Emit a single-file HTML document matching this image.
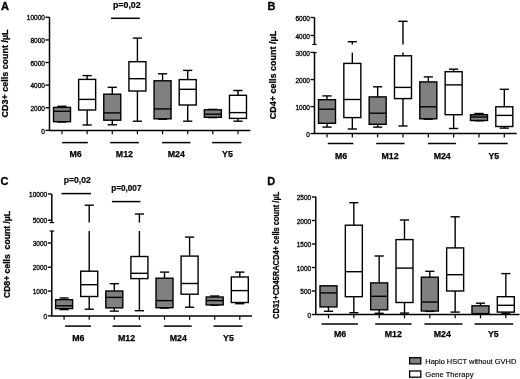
<!DOCTYPE html>
<html><head><meta charset="utf-8"><style>
html,body{margin:0;padding:0;background:#fff;}
body{width:520px;height:379px;overflow:hidden;}
svg{display:block;}
text{font-family:"Liberation Sans", sans-serif;fill:#000;}
svg{filter:grayscale(1);}
</style></head><body>
<svg width="520" height="379" viewBox="0 0 520 379" stroke="#000" fill="none" stroke-linecap="butt">
<line x1="49.50" y1="17.30" x2="49.50" y2="130.40" stroke-width="1.5"/>
<line x1="48.75" y1="130.40" x2="250.40" y2="130.40" stroke-width="1.5"/>
<line x1="45.50" y1="17.30" x2="49.50" y2="17.30" stroke-width="1.35"/>
<text stroke="#000" stroke-width="0.3" x="44.90" y="20.40" font-size="6.5" font-weight="normal" text-anchor="end" >10000</text>
<line x1="45.50" y1="39.92" x2="49.50" y2="39.92" stroke-width="1.35"/>
<text stroke="#000" stroke-width="0.3" x="44.90" y="43.02" font-size="6.5" font-weight="normal" text-anchor="end" >8000</text>
<line x1="45.50" y1="62.54" x2="49.50" y2="62.54" stroke-width="1.35"/>
<text stroke="#000" stroke-width="0.3" x="44.90" y="65.64" font-size="6.5" font-weight="normal" text-anchor="end" >6000</text>
<line x1="45.50" y1="85.16" x2="49.50" y2="85.16" stroke-width="1.35"/>
<text stroke="#000" stroke-width="0.3" x="44.90" y="88.26" font-size="6.5" font-weight="normal" text-anchor="end" >4000</text>
<line x1="45.50" y1="107.78" x2="49.50" y2="107.78" stroke-width="1.35"/>
<text stroke="#000" stroke-width="0.3" x="44.90" y="110.88" font-size="6.5" font-weight="normal" text-anchor="end" >2000</text>
<line x1="45.50" y1="130.40" x2="49.50" y2="130.40" stroke-width="1.35"/>
<text stroke="#000" stroke-width="0.3" x="44.90" y="133.50" font-size="6.5" font-weight="normal" text-anchor="end" >0</text>
<line x1="62.00" y1="130.40" x2="62.00" y2="134.20" stroke-width="1.2"/>
<line x1="87.14" y1="130.40" x2="87.14" y2="134.20" stroke-width="1.2"/>
<line x1="112.28" y1="130.40" x2="112.28" y2="134.20" stroke-width="1.2"/>
<line x1="137.42" y1="130.40" x2="137.42" y2="134.20" stroke-width="1.2"/>
<line x1="162.56" y1="130.40" x2="162.56" y2="134.20" stroke-width="1.2"/>
<line x1="187.70" y1="130.40" x2="187.70" y2="134.20" stroke-width="1.2"/>
<line x1="212.84" y1="130.40" x2="212.84" y2="134.20" stroke-width="1.2"/>
<line x1="237.98" y1="130.40" x2="237.98" y2="134.20" stroke-width="1.2"/>
<line x1="62.00" y1="106.30" x2="62.00" y2="107.40" stroke-width="1.4"/>
<line x1="57.40" y1="106.30" x2="66.60" y2="106.30" stroke-width="1.4"/>
<line x1="57.40" y1="122.00" x2="66.60" y2="122.00" stroke-width="1.4"/>
<rect x="53.50" y="107.40" width="17.00" height="14.30" fill="#808080" stroke-width="1.4"/>
<line x1="53.50" y1="111.30" x2="70.50" y2="111.30" stroke-width="1.4"/>
<line x1="87.14" y1="75.60" x2="87.14" y2="79.40" stroke-width="1.4"/>
<line x1="87.14" y1="110.00" x2="87.14" y2="125.00" stroke-width="1.4"/>
<line x1="82.54" y1="75.60" x2="91.74" y2="75.60" stroke-width="1.4"/>
<line x1="82.54" y1="125.00" x2="91.74" y2="125.00" stroke-width="1.4"/>
<rect x="78.64" y="79.40" width="17.00" height="30.60" fill="#fff" stroke-width="1.4"/>
<line x1="78.64" y1="99.40" x2="95.64" y2="99.40" stroke-width="1.4"/>
<line x1="112.28" y1="87.30" x2="112.28" y2="94.20" stroke-width="1.4"/>
<line x1="112.28" y1="120.20" x2="112.28" y2="124.80" stroke-width="1.4"/>
<line x1="107.68" y1="87.30" x2="116.88" y2="87.30" stroke-width="1.4"/>
<line x1="107.68" y1="124.80" x2="116.88" y2="124.80" stroke-width="1.4"/>
<rect x="103.78" y="94.20" width="17.00" height="26.00" fill="#808080" stroke-width="1.4"/>
<line x1="103.78" y1="112.90" x2="120.78" y2="112.90" stroke-width="1.4"/>
<line x1="137.42" y1="38.10" x2="137.42" y2="61.70" stroke-width="1.4"/>
<line x1="137.42" y1="91.00" x2="137.42" y2="121.20" stroke-width="1.4"/>
<line x1="132.82" y1="38.10" x2="142.02" y2="38.10" stroke-width="1.4"/>
<line x1="132.82" y1="121.20" x2="142.02" y2="121.20" stroke-width="1.4"/>
<rect x="128.92" y="61.70" width="17.00" height="29.30" fill="#fff" stroke-width="1.4"/>
<line x1="128.92" y1="78.70" x2="145.92" y2="78.70" stroke-width="1.4"/>
<line x1="162.56" y1="73.80" x2="162.56" y2="80.80" stroke-width="1.4"/>
<line x1="162.56" y1="118.80" x2="162.56" y2="119.20" stroke-width="1.4"/>
<line x1="157.96" y1="73.80" x2="167.16" y2="73.80" stroke-width="1.4"/>
<line x1="157.96" y1="119.20" x2="167.16" y2="119.20" stroke-width="1.4"/>
<rect x="154.06" y="80.80" width="17.00" height="38.00" fill="#808080" stroke-width="1.4"/>
<line x1="154.06" y1="108.90" x2="171.06" y2="108.90" stroke-width="1.4"/>
<line x1="187.70" y1="70.40" x2="187.70" y2="79.60" stroke-width="1.4"/>
<line x1="187.70" y1="105.00" x2="187.70" y2="121.20" stroke-width="1.4"/>
<line x1="183.10" y1="70.40" x2="192.30" y2="70.40" stroke-width="1.4"/>
<line x1="183.10" y1="121.20" x2="192.30" y2="121.20" stroke-width="1.4"/>
<rect x="179.20" y="79.60" width="17.00" height="25.40" fill="#fff" stroke-width="1.4"/>
<line x1="179.20" y1="89.30" x2="196.20" y2="89.30" stroke-width="1.4"/>
<line x1="212.84" y1="109.40" x2="212.84" y2="109.80" stroke-width="1.4"/>
<line x1="208.24" y1="109.40" x2="217.44" y2="109.40" stroke-width="1.4"/>
<line x1="208.24" y1="117.60" x2="217.44" y2="117.60" stroke-width="1.4"/>
<rect x="204.34" y="109.80" width="17.00" height="7.50" fill="#808080" stroke-width="1.4"/>
<line x1="204.34" y1="114.20" x2="221.34" y2="114.20" stroke-width="1.4"/>
<line x1="237.98" y1="90.50" x2="237.98" y2="95.30" stroke-width="1.4"/>
<line x1="237.98" y1="118.40" x2="237.98" y2="121.20" stroke-width="1.4"/>
<line x1="233.38" y1="90.50" x2="242.58" y2="90.50" stroke-width="1.4"/>
<line x1="233.38" y1="121.20" x2="242.58" y2="121.20" stroke-width="1.4"/>
<rect x="229.48" y="95.30" width="17.00" height="23.10" fill="#fff" stroke-width="1.4"/>
<line x1="229.48" y1="112.60" x2="246.48" y2="112.60" stroke-width="1.4"/>
<line x1="62.10" y1="142.60" x2="87.80" y2="142.60" stroke-width="1.5"/>
<line x1="110.20" y1="142.60" x2="138.90" y2="142.60" stroke-width="1.5"/>
<line x1="162.10" y1="142.60" x2="190.40" y2="142.60" stroke-width="1.5"/>
<line x1="212.20" y1="142.60" x2="241.30" y2="142.60" stroke-width="1.5"/>
<text stroke="#000" stroke-width="0.25" x="75.50" y="157.30" font-size="8.8" font-weight="bold" text-anchor="middle" >M6</text>
<text stroke="#000" stroke-width="0.25" x="124.40" y="157.30" font-size="8.8" font-weight="bold" text-anchor="middle" >M12</text>
<text stroke="#000" stroke-width="0.25" x="176.30" y="157.30" font-size="8.8" font-weight="bold" text-anchor="middle" >M24</text>
<text stroke="#000" stroke-width="0.25" x="227.40" y="157.30" font-size="8.8" font-weight="bold" text-anchor="middle" >Y5</text>
<text stroke="#000" stroke-width="0.3" x="1.00" y="10.00" font-size="11" font-weight="bold" text-anchor="start" >A</text>
<text stroke="#000" stroke-width="0.25" x="8.20" y="73.40" font-size="9.2" font-weight="bold" text-anchor="middle" textLength="88.0" lengthAdjust="spacingAndGlyphs" transform="rotate(-90 8.20 73.40)">CD3+ cells count /µL</text>
<text stroke="#000" stroke-width="0.2" x="113.00" y="8.10" font-size="8.8" font-weight="bold" text-anchor="start" >p=0,02</text>
<line x1="111.00" y1="18.30" x2="139.80" y2="18.30" stroke-width="1.5"/>
<line x1="314.50" y1="17.40" x2="314.50" y2="44.50" stroke-width="1.5"/>
<line x1="314.50" y1="52.60" x2="314.50" y2="133.60" stroke-width="1.5"/>
<line x1="313.75" y1="133.60" x2="516.60" y2="133.60" stroke-width="1.5"/>
<line x1="310.50" y1="17.50" x2="314.50" y2="17.50" stroke-width="1.35"/>
<text stroke="#000" stroke-width="0.3" x="309.90" y="20.60" font-size="6.5" font-weight="normal" text-anchor="end" >6000</text>
<line x1="310.50" y1="35.50" x2="314.50" y2="35.50" stroke-width="1.35"/>
<text stroke="#000" stroke-width="0.3" x="309.90" y="38.60" font-size="6.5" font-weight="normal" text-anchor="end" >4000</text>
<line x1="310.50" y1="52.40" x2="314.50" y2="52.40" stroke-width="1.35"/>
<text stroke="#000" stroke-width="0.3" x="309.90" y="55.50" font-size="6.5" font-weight="normal" text-anchor="end" >3000</text>
<line x1="310.50" y1="79.60" x2="314.50" y2="79.60" stroke-width="1.35"/>
<text stroke="#000" stroke-width="0.3" x="309.90" y="82.70" font-size="6.5" font-weight="normal" text-anchor="end" >2000</text>
<line x1="310.50" y1="106.60" x2="314.50" y2="106.60" stroke-width="1.35"/>
<text stroke="#000" stroke-width="0.3" x="309.90" y="109.70" font-size="6.5" font-weight="normal" text-anchor="end" >1000</text>
<line x1="310.50" y1="133.60" x2="314.50" y2="133.60" stroke-width="1.35"/>
<text stroke="#000" stroke-width="0.3" x="309.90" y="136.70" font-size="6.5" font-weight="normal" text-anchor="end" >0</text>
<line x1="312.30" y1="44.50" x2="316.70" y2="44.50" stroke-width="1.2"/>
<line x1="312.30" y1="52.60" x2="316.70" y2="52.60" stroke-width="1.2"/>
<line x1="327.00" y1="133.60" x2="327.00" y2="137.40" stroke-width="1.2"/>
<line x1="352.33" y1="133.60" x2="352.33" y2="137.40" stroke-width="1.2"/>
<line x1="377.66" y1="133.60" x2="377.66" y2="137.40" stroke-width="1.2"/>
<line x1="402.99" y1="133.60" x2="402.99" y2="137.40" stroke-width="1.2"/>
<line x1="428.32" y1="133.60" x2="428.32" y2="137.40" stroke-width="1.2"/>
<line x1="453.65" y1="133.60" x2="453.65" y2="137.40" stroke-width="1.2"/>
<line x1="478.98" y1="133.60" x2="478.98" y2="137.40" stroke-width="1.2"/>
<line x1="504.31" y1="133.60" x2="504.31" y2="137.40" stroke-width="1.2"/>
<line x1="327.00" y1="95.90" x2="327.00" y2="99.70" stroke-width="1.4"/>
<line x1="327.00" y1="123.30" x2="327.00" y2="127.10" stroke-width="1.4"/>
<line x1="322.40" y1="95.90" x2="331.60" y2="95.90" stroke-width="1.4"/>
<line x1="322.40" y1="127.10" x2="331.60" y2="127.10" stroke-width="1.4"/>
<rect x="318.50" y="99.70" width="17.00" height="23.60" fill="#808080" stroke-width="1.4"/>
<line x1="318.50" y1="109.20" x2="335.50" y2="109.20" stroke-width="1.4"/>
<line x1="352.33" y1="41.70" x2="352.33" y2="44.50" stroke-width="1.4"/>
<line x1="352.33" y1="52.60" x2="352.33" y2="63.40" stroke-width="1.4"/>
<line x1="352.33" y1="117.60" x2="352.33" y2="129.00" stroke-width="1.4"/>
<line x1="347.73" y1="41.70" x2="356.93" y2="41.70" stroke-width="1.4"/>
<line x1="347.73" y1="129.00" x2="356.93" y2="129.00" stroke-width="1.4"/>
<rect x="343.83" y="63.40" width="17.00" height="54.20" fill="#fff" stroke-width="1.4"/>
<line x1="343.83" y1="99.50" x2="360.83" y2="99.50" stroke-width="1.4"/>
<line x1="377.66" y1="86.80" x2="377.66" y2="96.90" stroke-width="1.4"/>
<line x1="377.66" y1="124.30" x2="377.66" y2="127.10" stroke-width="1.4"/>
<line x1="373.06" y1="86.80" x2="382.26" y2="86.80" stroke-width="1.4"/>
<line x1="373.06" y1="127.10" x2="382.26" y2="127.10" stroke-width="1.4"/>
<rect x="369.16" y="96.90" width="17.00" height="27.40" fill="#808080" stroke-width="1.4"/>
<line x1="369.16" y1="113.20" x2="386.16" y2="113.20" stroke-width="1.4"/>
<line x1="402.99" y1="21.30" x2="402.99" y2="44.50" stroke-width="1.4"/>
<line x1="402.99" y1="52.60" x2="402.99" y2="55.80" stroke-width="1.4"/>
<line x1="402.99" y1="98.60" x2="402.99" y2="126.00" stroke-width="1.4"/>
<line x1="398.39" y1="21.30" x2="407.59" y2="21.30" stroke-width="1.4"/>
<line x1="398.39" y1="126.00" x2="407.59" y2="126.00" stroke-width="1.4"/>
<rect x="394.49" y="55.80" width="17.00" height="42.80" fill="#fff" stroke-width="1.4"/>
<line x1="394.49" y1="87.40" x2="411.49" y2="87.40" stroke-width="1.4"/>
<line x1="428.32" y1="76.90" x2="428.32" y2="81.90" stroke-width="1.4"/>
<line x1="428.32" y1="118.80" x2="428.32" y2="119.20" stroke-width="1.4"/>
<line x1="423.72" y1="76.90" x2="432.92" y2="76.90" stroke-width="1.4"/>
<line x1="423.72" y1="119.20" x2="432.92" y2="119.20" stroke-width="1.4"/>
<rect x="419.82" y="81.90" width="17.00" height="36.90" fill="#808080" stroke-width="1.4"/>
<line x1="419.82" y1="106.80" x2="436.82" y2="106.80" stroke-width="1.4"/>
<line x1="453.65" y1="69.20" x2="453.65" y2="71.70" stroke-width="1.4"/>
<line x1="453.65" y1="114.70" x2="453.65" y2="128.50" stroke-width="1.4"/>
<line x1="449.05" y1="69.20" x2="458.25" y2="69.20" stroke-width="1.4"/>
<line x1="449.05" y1="128.50" x2="458.25" y2="128.50" stroke-width="1.4"/>
<rect x="445.15" y="71.70" width="17.00" height="43.00" fill="#fff" stroke-width="1.4"/>
<line x1="445.15" y1="84.90" x2="462.15" y2="84.90" stroke-width="1.4"/>
<line x1="478.98" y1="113.50" x2="478.98" y2="114.70" stroke-width="1.4"/>
<line x1="474.38" y1="113.50" x2="483.58" y2="113.50" stroke-width="1.4"/>
<line x1="474.38" y1="120.80" x2="483.58" y2="120.80" stroke-width="1.4"/>
<rect x="470.48" y="114.70" width="17.00" height="5.80" fill="#808080" stroke-width="1.4"/>
<line x1="470.48" y1="117.00" x2="487.48" y2="117.00" stroke-width="1.4"/>
<line x1="504.31" y1="89.30" x2="504.31" y2="106.80" stroke-width="1.4"/>
<line x1="504.31" y1="126.50" x2="504.31" y2="128.10" stroke-width="1.4"/>
<line x1="499.71" y1="89.30" x2="508.91" y2="89.30" stroke-width="1.4"/>
<line x1="499.71" y1="128.10" x2="508.91" y2="128.10" stroke-width="1.4"/>
<rect x="495.81" y="106.80" width="17.00" height="19.70" fill="#fff" stroke-width="1.4"/>
<line x1="495.81" y1="115.40" x2="512.81" y2="115.40" stroke-width="1.4"/>
<line x1="327.80" y1="143.50" x2="353.40" y2="143.50" stroke-width="1.5"/>
<line x1="376.20" y1="143.50" x2="404.50" y2="143.50" stroke-width="1.5"/>
<line x1="428.00" y1="143.50" x2="456.10" y2="143.50" stroke-width="1.5"/>
<line x1="478.30" y1="143.50" x2="507.70" y2="143.50" stroke-width="1.5"/>
<text stroke="#000" stroke-width="0.25" x="341.00" y="159.30" font-size="8.8" font-weight="bold" text-anchor="middle" >M6</text>
<text stroke="#000" stroke-width="0.25" x="390.00" y="159.30" font-size="8.8" font-weight="bold" text-anchor="middle" >M12</text>
<text stroke="#000" stroke-width="0.25" x="442.20" y="159.30" font-size="8.8" font-weight="bold" text-anchor="middle" >M24</text>
<text stroke="#000" stroke-width="0.25" x="493.80" y="159.30" font-size="8.8" font-weight="bold" text-anchor="middle" >Y5</text>
<text stroke="#000" stroke-width="0.3" x="267.50" y="10.20" font-size="11" font-weight="bold" text-anchor="start" >B</text>
<text stroke="#000" stroke-width="0.25" x="276.00" y="75.10" font-size="9.2" font-weight="bold" text-anchor="middle" textLength="88.5" lengthAdjust="spacingAndGlyphs" transform="rotate(-90 276.00 75.10)">CD4+ cells count /µL</text>
<line x1="51.80" y1="194.00" x2="51.80" y2="222.60" stroke-width="1.5"/>
<line x1="51.80" y1="231.00" x2="51.80" y2="315.90" stroke-width="1.5"/>
<line x1="51.05" y1="315.90" x2="252.00" y2="315.90" stroke-width="1.5"/>
<line x1="47.80" y1="194.00" x2="51.80" y2="194.00" stroke-width="1.35"/>
<text stroke="#000" stroke-width="0.3" x="47.20" y="197.10" font-size="6.5" font-weight="normal" text-anchor="end" >10000</text>
<line x1="47.80" y1="220.20" x2="51.80" y2="220.20" stroke-width="1.35"/>
<text stroke="#000" stroke-width="0.3" x="47.20" y="223.30" font-size="6.5" font-weight="normal" text-anchor="end" >5000</text>
<line x1="47.80" y1="243.00" x2="51.80" y2="243.00" stroke-width="1.35"/>
<text stroke="#000" stroke-width="0.3" x="47.20" y="246.10" font-size="6.5" font-weight="normal" text-anchor="end" >3000</text>
<line x1="47.80" y1="267.20" x2="51.80" y2="267.20" stroke-width="1.35"/>
<text stroke="#000" stroke-width="0.3" x="47.20" y="270.30" font-size="6.5" font-weight="normal" text-anchor="end" >2000</text>
<line x1="47.80" y1="291.10" x2="51.80" y2="291.10" stroke-width="1.35"/>
<text stroke="#000" stroke-width="0.3" x="47.20" y="294.20" font-size="6.5" font-weight="normal" text-anchor="end" >1000</text>
<line x1="47.80" y1="315.90" x2="51.80" y2="315.90" stroke-width="1.35"/>
<text stroke="#000" stroke-width="0.3" x="47.20" y="319.00" font-size="6.5" font-weight="normal" text-anchor="end" >0</text>
<line x1="49.60" y1="222.60" x2="54.00" y2="222.60" stroke-width="1.2"/>
<line x1="49.60" y1="231.00" x2="54.00" y2="231.00" stroke-width="1.2"/>
<line x1="64.10" y1="315.90" x2="64.10" y2="319.70" stroke-width="1.2"/>
<line x1="89.20" y1="315.90" x2="89.20" y2="319.70" stroke-width="1.2"/>
<line x1="114.30" y1="315.90" x2="114.30" y2="319.70" stroke-width="1.2"/>
<line x1="139.40" y1="315.90" x2="139.40" y2="319.70" stroke-width="1.2"/>
<line x1="164.50" y1="315.90" x2="164.50" y2="319.70" stroke-width="1.2"/>
<line x1="189.60" y1="315.90" x2="189.60" y2="319.70" stroke-width="1.2"/>
<line x1="214.70" y1="315.90" x2="214.70" y2="319.70" stroke-width="1.2"/>
<line x1="239.80" y1="315.90" x2="239.80" y2="319.70" stroke-width="1.2"/>
<line x1="64.10" y1="298.00" x2="64.10" y2="299.70" stroke-width="1.4"/>
<line x1="64.10" y1="308.60" x2="64.10" y2="309.60" stroke-width="1.4"/>
<line x1="59.50" y1="298.00" x2="68.70" y2="298.00" stroke-width="1.4"/>
<line x1="59.50" y1="309.60" x2="68.70" y2="309.60" stroke-width="1.4"/>
<rect x="55.60" y="299.70" width="17.00" height="8.90" fill="#808080" stroke-width="1.4"/>
<line x1="55.60" y1="305.80" x2="72.60" y2="305.80" stroke-width="1.4"/>
<line x1="89.20" y1="205.20" x2="89.20" y2="222.60" stroke-width="1.4"/>
<line x1="89.20" y1="231.00" x2="89.20" y2="271.20" stroke-width="1.4"/>
<line x1="89.20" y1="296.50" x2="89.20" y2="309.20" stroke-width="1.4"/>
<line x1="84.60" y1="205.20" x2="93.80" y2="205.20" stroke-width="1.4"/>
<line x1="84.60" y1="309.20" x2="93.80" y2="309.20" stroke-width="1.4"/>
<rect x="80.70" y="271.20" width="17.00" height="25.30" fill="#fff" stroke-width="1.4"/>
<line x1="80.70" y1="284.70" x2="97.70" y2="284.70" stroke-width="1.4"/>
<line x1="114.30" y1="283.70" x2="114.30" y2="291.00" stroke-width="1.4"/>
<line x1="114.30" y1="307.90" x2="114.30" y2="311.10" stroke-width="1.4"/>
<line x1="109.70" y1="283.70" x2="118.90" y2="283.70" stroke-width="1.4"/>
<line x1="109.70" y1="311.10" x2="118.90" y2="311.10" stroke-width="1.4"/>
<rect x="105.80" y="291.00" width="17.00" height="16.90" fill="#808080" stroke-width="1.4"/>
<line x1="105.80" y1="297.40" x2="122.80" y2="297.40" stroke-width="1.4"/>
<line x1="139.40" y1="214.00" x2="139.40" y2="222.60" stroke-width="1.4"/>
<line x1="139.40" y1="231.00" x2="139.40" y2="256.50" stroke-width="1.4"/>
<line x1="139.40" y1="278.60" x2="139.40" y2="310.70" stroke-width="1.4"/>
<line x1="134.80" y1="214.00" x2="144.00" y2="214.00" stroke-width="1.4"/>
<line x1="134.80" y1="310.70" x2="144.00" y2="310.70" stroke-width="1.4"/>
<rect x="130.90" y="256.50" width="17.00" height="22.10" fill="#fff" stroke-width="1.4"/>
<line x1="130.90" y1="273.30" x2="147.90" y2="273.30" stroke-width="1.4"/>
<line x1="164.50" y1="272.10" x2="164.50" y2="278.20" stroke-width="1.4"/>
<line x1="164.50" y1="307.70" x2="164.50" y2="308.10" stroke-width="1.4"/>
<line x1="159.90" y1="272.10" x2="169.10" y2="272.10" stroke-width="1.4"/>
<line x1="159.90" y1="308.10" x2="169.10" y2="308.10" stroke-width="1.4"/>
<rect x="156.00" y="278.20" width="17.00" height="29.50" fill="#808080" stroke-width="1.4"/>
<line x1="156.00" y1="300.60" x2="173.00" y2="300.60" stroke-width="1.4"/>
<line x1="189.60" y1="237.10" x2="189.60" y2="256.10" stroke-width="1.4"/>
<line x1="189.60" y1="294.20" x2="189.60" y2="307.20" stroke-width="1.4"/>
<line x1="185.00" y1="237.10" x2="194.20" y2="237.10" stroke-width="1.4"/>
<line x1="185.00" y1="307.20" x2="194.20" y2="307.20" stroke-width="1.4"/>
<rect x="181.10" y="256.10" width="17.00" height="38.10" fill="#fff" stroke-width="1.4"/>
<line x1="181.10" y1="283.50" x2="198.10" y2="283.50" stroke-width="1.4"/>
<line x1="214.70" y1="296.00" x2="214.70" y2="297.00" stroke-width="1.4"/>
<line x1="210.10" y1="296.00" x2="219.30" y2="296.00" stroke-width="1.4"/>
<line x1="210.10" y1="305.20" x2="219.30" y2="305.20" stroke-width="1.4"/>
<rect x="206.20" y="297.00" width="17.00" height="7.90" fill="#808080" stroke-width="1.4"/>
<line x1="206.20" y1="300.60" x2="223.20" y2="300.60" stroke-width="1.4"/>
<line x1="239.80" y1="272.10" x2="239.80" y2="277.00" stroke-width="1.4"/>
<line x1="239.80" y1="302.50" x2="239.80" y2="303.70" stroke-width="1.4"/>
<line x1="235.20" y1="272.10" x2="244.40" y2="272.10" stroke-width="1.4"/>
<line x1="235.20" y1="303.70" x2="244.40" y2="303.70" stroke-width="1.4"/>
<rect x="231.30" y="277.00" width="17.00" height="25.50" fill="#fff" stroke-width="1.4"/>
<line x1="231.30" y1="290.60" x2="248.30" y2="290.60" stroke-width="1.4"/>
<line x1="65.10" y1="326.10" x2="91.00" y2="326.10" stroke-width="1.5"/>
<line x1="112.60" y1="326.10" x2="140.90" y2="326.10" stroke-width="1.5"/>
<line x1="163.80" y1="326.10" x2="191.70" y2="326.10" stroke-width="1.5"/>
<line x1="213.50" y1="326.10" x2="242.40" y2="326.10" stroke-width="1.5"/>
<text stroke="#000" stroke-width="0.25" x="78.25" y="340.90" font-size="8.8" font-weight="bold" text-anchor="middle" >M6</text>
<text stroke="#000" stroke-width="0.25" x="126.50" y="340.90" font-size="8.8" font-weight="bold" text-anchor="middle" >M12</text>
<text stroke="#000" stroke-width="0.25" x="178.25" y="340.90" font-size="8.8" font-weight="bold" text-anchor="middle" >M24</text>
<text stroke="#000" stroke-width="0.25" x="228.50" y="340.90" font-size="8.8" font-weight="bold" text-anchor="middle" >Y5</text>
<text stroke="#000" stroke-width="0.3" x="0.60" y="185.10" font-size="11" font-weight="bold" text-anchor="start" >C</text>
<text stroke="#000" stroke-width="0.25" x="9.50" y="254.50" font-size="8.6" font-weight="bold" text-anchor="middle" textLength="87.2" lengthAdjust="spacingAndGlyphs" transform="rotate(-90 9.50 254.50)">CD8+ cells&#160; count /µL</text>
<text stroke="#000" stroke-width="0.2" x="63.80" y="183.40" font-size="8.6" font-weight="bold" text-anchor="start" >p=0,02</text>
<text stroke="#000" stroke-width="0.2" x="111.20" y="190.70" font-size="8.2" font-weight="bold" text-anchor="start" >p=0,007</text>
<line x1="61.50" y1="193.60" x2="91.00" y2="193.60" stroke-width="1.5"/>
<line x1="111.90" y1="201.60" x2="140.40" y2="201.60" stroke-width="1.5"/>
<line x1="315.80" y1="196.80" x2="315.80" y2="314.50" stroke-width="1.5"/>
<line x1="315.05" y1="314.50" x2="519.50" y2="314.50" stroke-width="1.5"/>
<line x1="311.80" y1="197.00" x2="315.80" y2="197.00" stroke-width="1.35"/>
<text stroke="#000" stroke-width="0.3" x="311.20" y="200.10" font-size="6.5" font-weight="normal" text-anchor="end" >2500</text>
<line x1="311.80" y1="220.50" x2="315.80" y2="220.50" stroke-width="1.35"/>
<text stroke="#000" stroke-width="0.3" x="311.20" y="223.60" font-size="6.5" font-weight="normal" text-anchor="end" >2000</text>
<line x1="311.80" y1="244.00" x2="315.80" y2="244.00" stroke-width="1.35"/>
<text stroke="#000" stroke-width="0.3" x="311.20" y="247.10" font-size="6.5" font-weight="normal" text-anchor="end" >1500</text>
<line x1="311.80" y1="267.50" x2="315.80" y2="267.50" stroke-width="1.35"/>
<text stroke="#000" stroke-width="0.3" x="311.20" y="270.60" font-size="6.5" font-weight="normal" text-anchor="end" >1000</text>
<line x1="311.80" y1="291.00" x2="315.80" y2="291.00" stroke-width="1.35"/>
<text stroke="#000" stroke-width="0.3" x="311.20" y="294.10" font-size="6.5" font-weight="normal" text-anchor="end" >500</text>
<line x1="311.80" y1="314.50" x2="315.80" y2="314.50" stroke-width="1.35"/>
<text stroke="#000" stroke-width="0.3" x="311.20" y="317.60" font-size="6.5" font-weight="normal" text-anchor="end" >0</text>
<line x1="328.50" y1="314.50" x2="328.50" y2="318.30" stroke-width="1.2"/>
<line x1="353.83" y1="314.50" x2="353.83" y2="318.30" stroke-width="1.2"/>
<line x1="379.16" y1="314.50" x2="379.16" y2="318.30" stroke-width="1.2"/>
<line x1="404.49" y1="314.50" x2="404.49" y2="318.30" stroke-width="1.2"/>
<line x1="429.82" y1="314.50" x2="429.82" y2="318.30" stroke-width="1.2"/>
<line x1="455.15" y1="314.50" x2="455.15" y2="318.30" stroke-width="1.2"/>
<line x1="480.48" y1="314.50" x2="480.48" y2="318.30" stroke-width="1.2"/>
<line x1="505.81" y1="314.50" x2="505.81" y2="318.30" stroke-width="1.2"/>
<line x1="328.50" y1="306.90" x2="328.50" y2="311.30" stroke-width="1.4"/>
<line x1="323.90" y1="311.30" x2="333.10" y2="311.30" stroke-width="1.4"/>
<rect x="320.00" y="285.80" width="17.00" height="21.10" fill="#808080" stroke-width="1.4"/>
<line x1="320.00" y1="292.90" x2="337.00" y2="292.90" stroke-width="1.4"/>
<line x1="353.83" y1="202.70" x2="353.83" y2="225.20" stroke-width="1.4"/>
<line x1="353.83" y1="296.70" x2="353.83" y2="312.70" stroke-width="1.4"/>
<line x1="349.23" y1="202.70" x2="358.43" y2="202.70" stroke-width="1.4"/>
<line x1="349.23" y1="312.70" x2="358.43" y2="312.70" stroke-width="1.4"/>
<rect x="345.33" y="225.20" width="17.00" height="71.50" fill="#fff" stroke-width="1.4"/>
<line x1="345.33" y1="271.70" x2="362.33" y2="271.70" stroke-width="1.4"/>
<line x1="379.16" y1="256.00" x2="379.16" y2="282.90" stroke-width="1.4"/>
<line x1="379.16" y1="309.80" x2="379.16" y2="313.30" stroke-width="1.4"/>
<line x1="374.56" y1="256.00" x2="383.76" y2="256.00" stroke-width="1.4"/>
<line x1="374.56" y1="313.30" x2="383.76" y2="313.30" stroke-width="1.4"/>
<rect x="370.66" y="282.90" width="17.00" height="26.90" fill="#808080" stroke-width="1.4"/>
<line x1="370.66" y1="296.30" x2="387.66" y2="296.30" stroke-width="1.4"/>
<line x1="404.49" y1="220.00" x2="404.49" y2="239.60" stroke-width="1.4"/>
<line x1="404.49" y1="302.50" x2="404.49" y2="313.10" stroke-width="1.4"/>
<line x1="399.89" y1="220.00" x2="409.09" y2="220.00" stroke-width="1.4"/>
<line x1="399.89" y1="313.10" x2="409.09" y2="313.10" stroke-width="1.4"/>
<rect x="395.99" y="239.60" width="17.00" height="62.90" fill="#fff" stroke-width="1.4"/>
<line x1="395.99" y1="268.10" x2="412.99" y2="268.10" stroke-width="1.4"/>
<line x1="429.82" y1="271.30" x2="429.82" y2="277.20" stroke-width="1.4"/>
<line x1="429.82" y1="311.00" x2="429.82" y2="311.40" stroke-width="1.4"/>
<line x1="425.22" y1="271.30" x2="434.42" y2="271.30" stroke-width="1.4"/>
<line x1="425.22" y1="311.40" x2="434.42" y2="311.40" stroke-width="1.4"/>
<rect x="421.32" y="277.20" width="17.00" height="33.80" fill="#808080" stroke-width="1.4"/>
<line x1="421.32" y1="302.00" x2="438.32" y2="302.00" stroke-width="1.4"/>
<line x1="455.15" y1="216.80" x2="455.15" y2="247.90" stroke-width="1.4"/>
<line x1="455.15" y1="291.00" x2="455.15" y2="312.10" stroke-width="1.4"/>
<line x1="450.55" y1="216.80" x2="459.75" y2="216.80" stroke-width="1.4"/>
<line x1="450.55" y1="312.10" x2="459.75" y2="312.10" stroke-width="1.4"/>
<rect x="446.65" y="247.90" width="17.00" height="43.10" fill="#fff" stroke-width="1.4"/>
<line x1="446.65" y1="274.70" x2="463.65" y2="274.70" stroke-width="1.4"/>
<line x1="480.48" y1="303.20" x2="480.48" y2="305.80" stroke-width="1.4"/>
<line x1="475.88" y1="303.20" x2="485.08" y2="303.20" stroke-width="1.4"/>
<rect x="471.98" y="305.80" width="17.00" height="7.80" fill="#808080" stroke-width="1.4"/>
<line x1="505.81" y1="273.60" x2="505.81" y2="296.70" stroke-width="1.4"/>
<line x1="505.81" y1="312.10" x2="505.81" y2="313.20" stroke-width="1.4"/>
<line x1="501.21" y1="273.60" x2="510.41" y2="273.60" stroke-width="1.4"/>
<line x1="501.21" y1="313.20" x2="510.41" y2="313.20" stroke-width="1.4"/>
<rect x="497.31" y="296.70" width="17.00" height="15.40" fill="#fff" stroke-width="1.4"/>
<line x1="497.31" y1="305.30" x2="514.31" y2="305.30" stroke-width="1.4"/>
<line x1="321.50" y1="324.00" x2="357.90" y2="324.00" stroke-width="1.5"/>
<line x1="375.20" y1="324.00" x2="411.60" y2="324.00" stroke-width="1.5"/>
<line x1="424.40" y1="324.00" x2="462.50" y2="324.00" stroke-width="1.5"/>
<line x1="474.50" y1="324.00" x2="513.20" y2="324.00" stroke-width="1.5"/>
<text stroke="#000" stroke-width="0.25" x="340.00" y="337.20" font-size="8.8" font-weight="bold" text-anchor="middle" >M6</text>
<text stroke="#000" stroke-width="0.25" x="393.30" y="337.20" font-size="8.8" font-weight="bold" text-anchor="middle" >M12</text>
<text stroke="#000" stroke-width="0.25" x="442.25" y="337.20" font-size="8.8" font-weight="bold" text-anchor="middle" >M24</text>
<text stroke="#000" stroke-width="0.25" x="493.35" y="337.20" font-size="8.8" font-weight="bold" text-anchor="middle" >Y5</text>
<text stroke="#000" stroke-width="0.3" x="267.30" y="184.80" font-size="11" font-weight="bold" text-anchor="start" >D</text>
<text stroke="#000" stroke-width="0.25" x="279.00" y="255.30" font-size="8.4" font-weight="bold" text-anchor="middle" textLength="127.2" lengthAdjust="spacingAndGlyphs" transform="rotate(-90 279.00 255.30)">CD31+CD45RACD4+ cells count /µL</text>
<rect x="409.6" y="357.7" width="11.2" height="6.2" fill="#808080" stroke-width="1.3"/>
<rect x="409.6" y="371.0" width="11.2" height="6.2" fill="#fff" stroke-width="1.3"/>
<text stroke="#000" stroke-width="0.15" x="425.30" y="363.90" font-size="7.46" font-weight="normal" text-anchor="start" >Haplo HSCT without GVHD</text>
<text stroke="#000" stroke-width="0.15" x="425.30" y="377.10" font-size="7.55" font-weight="normal" text-anchor="start" >Gene Therapy</text>
</svg>
</body></html>
